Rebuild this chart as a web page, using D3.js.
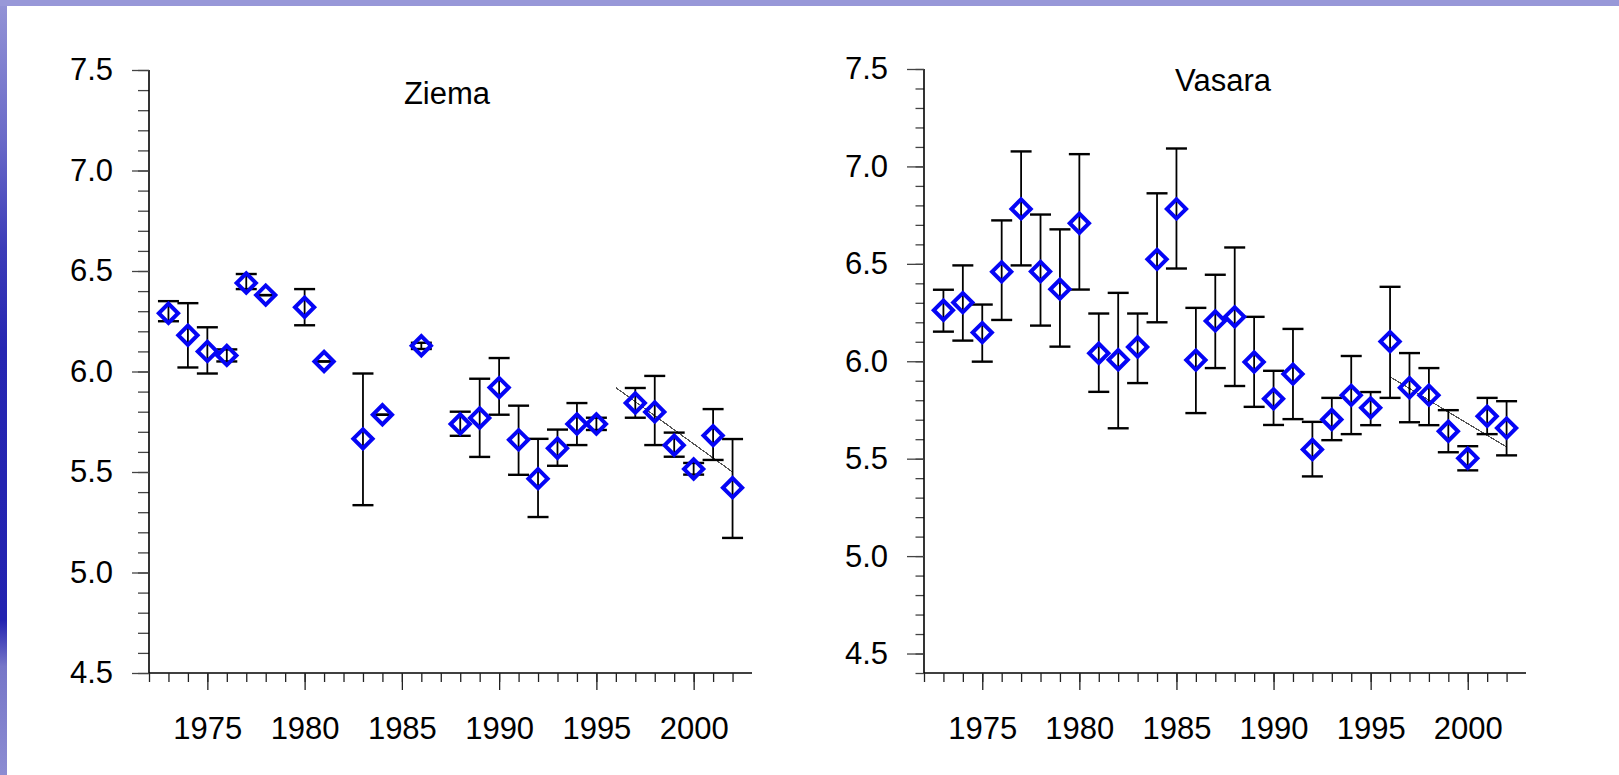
<!DOCTYPE html>
<html lang="lv">
<head>
<meta charset="UTF-8">
<title>Ziema / Vasara</title>
<script src="https://d3js.org/d3.v7.min.js"></script>
<style>
  html, body { margin: 0; padding: 0; background: #fff; }
  svg { display: block; font-family: "Liberation Sans", Arial, sans-serif; }
</style>
</head>
<body>
<svg id="main" width="1619" height="775"></svg>
<script>
// --- data ---
const yearsZiema = [1973, 1974, 1975, 1976, 1977, 1978, 1980, 1981, 1983, 1984, 1986, 1988, 1989, 1990,
                    1991, 1992, 1993, 1994, 1995, 1997, 1998, 1999, 2000, 2001, 2002];
const meanZiema  = [6.29, 6.18, 6.10, 6.08, 6.44, 6.38, 6.32, 6.05, 5.665, 5.785, 6.128, 5.739, 5.769, 5.92,
                    5.66, 5.467, 5.618, 5.739, 5.739, 5.843, 5.799, 5.633, 5.515, 5.681, 5.422];
const lowZiema   = [6.25, 6.02, 5.99, 6.05, 6.41, 6.38, 6.23, 6.05, 5.335, 5.785, 6.112, 5.68, 5.575, 5.785,
                    5.486, 5.276, 5.531, 5.634, 5.709, 5.77, 5.634, 5.576, 5.487, 5.56, 5.172];
const highZiema  = [6.35, 6.34, 6.22, 6.11, 6.485, 6.38, 6.41, 6.05, 5.99, 5.785, 6.143, 5.80, 5.964, 6.067,
                    5.83, 5.665, 5.711, 5.843, 5.77, 5.918, 5.978, 5.696, 5.545, 5.813, 5.664];
const trendYears  = [1996, 2002];
const trendZiema  = [5.92, 5.50];

const yearsVasara = [1973, 1974, 1975, 1976, 1977, 1978, 1979, 1980, 1981, 1982, 1983, 1984, 1985, 1986,
                     1987, 1988, 1989, 1990, 1991, 1992, 1993, 1994, 1995, 1996, 1997, 1998, 1999, 2000,
                     2001, 2002];
const meanVasara  = [6.262, 6.301, 6.147, 6.459, 6.782, 6.461, 6.37, 6.708, 6.041, 6.008, 6.073, 6.523, 6.782, 6.006,
                     6.207, 6.228, 5.996, 5.807, 5.934, 5.547, 5.701, 5.825, 5.761, 6.101, 5.864, 5.826, 5.641, 5.502,
                     5.718, 5.657];
const lowVasara   = [6.152, 6.106, 5.998, 6.212, 6.492, 6.183, 6.075, 6.368, 5.843, 5.656, 5.888, 6.20, 6.476, 5.734,
                     5.965, 5.873, 5.766, 5.673, 5.703, 5.409, 5.595, 5.626, 5.672, 5.812, 5.687, 5.672, 5.533, 5.44,
                     5.626, 5.517];
const highVasara  = [6.367, 6.492, 6.291, 6.723, 7.077, 6.753, 6.677, 7.063, 6.245, 6.351, 6.245, 6.862, 7.092, 6.274,
                     6.444, 6.584, 6.228, 5.951, 6.166, 5.689, 5.812, 6.027, 5.842, 6.382, 6.042, 5.965, 5.749, 5.564,
                     5.812, 5.795];
const trendVasara = [5.92, 5.56];

const yearMajor = [1975, 1980, 1985, 1990, 1995, 2000];
const yearMinor = d3.range(1972, 2003);
const valueMajor = [4.5, 5.0, 5.5, 6.0, 6.5, 7.0, 7.5];

const svg = d3.select('svg#main');

// slide border (blue bar on the left, lighter bar on top)
const defs = svg.append('defs');
const grad = defs.append('linearGradient').attr('id', 'sideBar')
    .attr('x1', 0).attr('y1', 0).attr('x2', 0).attr('y2', 1);
[[0, '#9494d6'], [0.18, '#6a6ac8'], [0.32, '#3c3cb8'], [0.45, '#2626b2'], [0.8, '#2222b0'],
 [0.86, '#7676c8'], [1, '#8c8cd2']].forEach(function(s) {
    grad.append('stop').attr('offset', s[0]).attr('stop-color', s[1]);
});
svg.append('rect').attr('x', 0).attr('y', 0).attr('width', 7).attr('height', 775).attr('fill', 'url(#sideBar)');
svg.append('rect').attr('x', 0).attr('y', 0).attr('width', 1619).attr('height', 6).attr('fill', '#9898d8');

function drawPanel(p) {
    let x = d3.scaleLinear().domain([1972, 2003]).range([p.left, p.right]);
    let y = d3.scaleLinear().domain(p.yDomain).range([p.bottom, p.top]);
    let g = svg.append('g');

    // minor ticks first, then the labelled ones
    g.append('g')
        .attr('transform', 'translate(' + p.left + ',0)')
        .call(d3.axisLeft(y).tickValues(d3.range(Math.round(p.yDomain[0] * 10), 76).map(v => v / 10))
            .tickSize(p.minorY).tickFormat(''))
        .call(a => a.select('.domain').remove())
        .call(a => a.selectAll('line').attr('stroke', '#444').attr('stroke-width', 1.3));
    g.append('g')
        .attr('transform', 'translate(' + p.left + ',0)')
        .call(d3.axisLeft(y).tickValues(valueMajor).tickSize(17).tickPadding(19).tickFormat(d3.format('.1f')))
        .call(a => a.select('.domain').attr('d', 'M0,' + p.bottom + 'V' + p.top).attr('stroke', '#000').attr('stroke-width', 1.6))
        .call(a => a.selectAll('line').attr('stroke', '#444').attr('stroke-width', 1.3))
        .call(a => a.selectAll('text').attr('font-size', 31).attr('fill', '#000'));

    g.append('g')
        .attr('transform', 'translate(0,' + p.bottom + ')')
        .call(d3.axisBottom(x).tickValues(yearMinor).tickSize(9).tickFormat(''))
        .call(a => a.select('.domain').attr('d', 'M' + p.left + ',0H' + p.right).attr('stroke', '#000').attr('stroke-width', 1.6))
        .call(a => a.selectAll('line').attr('stroke', '#222').attr('stroke-width', 1.3));
    g.append('g')
        .attr('transform', 'translate(0,' + p.bottom + ')')
        .call(d3.axisBottom(x).tickValues(yearMajor).tickSize(17).tickPadding(27).tickFormat(d3.format('d')))
        .call(a => a.select('.domain').remove())
        .call(a => a.selectAll('line').attr('stroke', '#222').attr('stroke-width', 1.3))
        .call(a => a.selectAll('text').attr('font-size', 31).attr('fill', '#000'));

    // trend line (aliased like the original)
    g.append('path')
        .datum(trendYears.map((t, i) => [t, p.trend[i]]))
        .attr('d', d3.line().x(d => x(d[0])).y(d => y(d[1])))
        .attr('fill', 'none').attr('stroke', '#555').attr('stroke-width', 1.2)
        .attr('shape-rendering', 'crispEdges');

    let pts = p.years.map((t, i) => ({ year: t, mean: p.mean[i], lo: p.low[i], hi: p.high[i] }));

    // error bars
    let eb = g.append('g').attr('stroke', '#000').attr('fill', 'none');
    eb.selectAll('line.v').data(pts).join('line').attr('class', 'v')
        .attr('x1', d => x(d.year)).attr('x2', d => x(d.year))
        .attr('y1', d => y(d.lo)).attr('y2', d => y(d.hi))
        .attr('stroke-width', 1.8);
    eb.selectAll('line.hi').data(pts).join('line').attr('class', 'hi')
        .attr('x1', d => x(d.year) - 10.5).attr('x2', d => x(d.year) + 10.5)
        .attr('y1', d => y(d.hi)).attr('y2', d => y(d.hi))
        .attr('stroke-width', 2.4);
    eb.selectAll('line.lo').data(pts).join('line').attr('class', 'lo')
        .attr('x1', d => x(d.year) - 10.5).attr('x2', d => x(d.year) + 10.5)
        .attr('y1', d => y(d.lo)).attr('y2', d => y(d.lo))
        .attr('stroke-width', 2.4);

    // diamond markers
    g.selectAll('path.mark').data(pts).join('path').attr('class', 'mark')
        .attr('d', d3.symbol(d3.symbolSquare, 185))
        .attr('transform', d => 'translate(' + x(d.year) + ',' + y(d.mean) + ') rotate(45)')
        .attr('fill', 'none').attr('stroke', '#0505f5').attr('stroke-width', 4);

    g.append('text')
        .attr('x', p.titleX).attr('y', p.titleY)
        .attr('text-anchor', 'middle').attr('font-size', 31).attr('fill', '#000')
        .text(p.title);
}

drawPanel({
    title: 'Ziema', titleX: 447, titleY: 104,
    left: 149, right: 752, top: 70, bottom: 673, yDomain: [4.5, 7.5], minorY: 11,
    years: yearsZiema, mean: meanZiema, low: lowZiema, high: highZiema, trend: trendZiema
});
drawPanel({
    title: 'Vasara', titleX: 1223, titleY: 91,
    left: 924, right: 1526, top: 69, bottom: 673, yDomain: [4.4, 7.5], minorY: 8.5,
    years: yearsVasara, mean: meanVasara, low: lowVasara, high: highVasara, trend: trendVasara
});
</script>
</body>
</html>
